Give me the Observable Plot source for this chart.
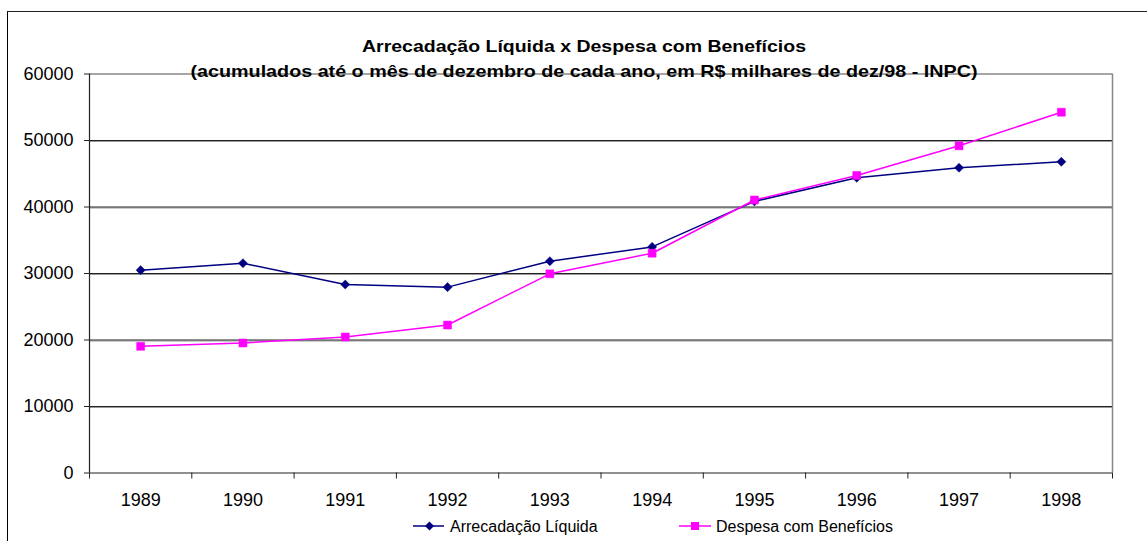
<!DOCTYPE html>
<html>
<head>
<meta charset="utf-8">
<script src="https://cdn.jsdelivr.net/npm/d3@7"></script>
<script src="https://cdn.jsdelivr.net/npm/@observablehq/plot@0.6"></script>
<style>
  html, body { margin: 0; padding: 0; background: #fff; }
  #wrap { position: relative; width: 1147px; height: 541px; overflow: hidden; background: #fff; }
  #frame { position: absolute; left: 7px; top: 11px; width: 1200px; height: 600px; border-left: 1px solid #000; border-top: 1.5px solid #222; box-sizing: border-box; }
  #chart { position: absolute; left: 0; top: 0; }
  #overlay { position: absolute; left: 0; top: 0; pointer-events: none; }
</style>
</head>
<body>
<div id="wrap">
  <div id="frame"></div>
  <div id="chart"></div>
  <svg id="overlay" width="1147" height="541"></svg>
</div>
<script>
// ---- data ----
const years = [1989, 1990, 1991, 1992, 1993, 1994, 1995, 1996, 1997, 1998];
const arrecadacao = [30500, 31550, 28350, 27950, 31850, 34000, 40850, 44400, 45900, 46800];
const despesa = [19050, 19550, 20450, 22250, 29950, 33050, 41050, 44750, 49200, 54250];
const yTicks = [0, 10000, 20000, 30000, 40000, 50000, 60000];
const seriesNames = ["Arrecadação Líquida", "Despesa com Benefícios"];
const titleText = "Arrecadação Líquida x Despesa com Benefícios";
const subtitleText = "(acumulados até o mês de dezembro de cada ano, em R$ milhares de dez/98 - INPC)";

const rowsA = years.map((y, i) => ({year: y, value: arrecadacao[i]}));
const rowsD = years.map((y, i) => ({year: y, value: despesa[i]}));
const bounds = d3.range(years[0] - 0.5, years[years.length - 1] + 1, 1);
const innerGrid = yTicks.filter(v => v > 0 && v < 60000);

const navy = "#000080";
const pink = "#FF00FF";
const font = "'Liberation Sans', Arial, Helvetica, sans-serif";

const chart = Plot.plot({
  width: 1147,
  height: 541,
  marginLeft: 89,
  marginRight: 35,
  marginTop: 73.5,
  marginBottom: 68.5,
  style: {fontFamily: font, fontSize: "18px", color: "#000", background: "transparent", overflow: "visible"},
  x: {type: "linear", domain: [bounds[0], bounds[bounds.length - 1]]},
  y: {type: "linear", domain: [0, 60000]},
  marks: [
    // gridlines
    Plot.ruleY(innerGrid, {stroke: "#999", strokeWidth: 1, dy: 1}),
    Plot.ruleY(innerGrid, {stroke: "#222", strokeWidth: 1}),
    // top and right borders of the plot area
    Plot.ruleY([60000], {stroke: "#888", strokeWidth: 1.5}),
    Plot.ruleX([bounds[bounds.length - 1]], {stroke: "#888", strokeWidth: 1.5}),
    // axes lines
    Plot.ruleY([0], {stroke: "#222", strokeWidth: 1.2}),
    Plot.ruleX([bounds[0]], {stroke: "#222", strokeWidth: 1.2}),
    Plot.axisY({ticks: yTicks, tickSize: 5, tickPadding: 11, tickFormat: d => String(d), label: null, fontSize: 18, stroke: "#222"}),
    Plot.axisX({ticks: bounds, tickSize: 6, tickFormat: () => "", label: null, stroke: "#222"}),
    Plot.axisX({ticks: years, tickSize: 0, tickPadding: 20, tickFormat: d => String(d), label: null, fontSize: 18}),
    // series
    Plot.line(rowsA, {x: "year", y: "value", stroke: navy, strokeWidth: 1.5}),
    Plot.dot(rowsA, {x: "year", y: "value", symbol: "diamond2", r: 4.1, fill: navy, stroke: navy, strokeWidth: 0.5}),
    Plot.line(rowsD, {x: "year", y: "value", stroke: pink, strokeWidth: 1.5}),
    Plot.dot(rowsD, {x: "year", y: "value", symbol: "square", r: 4.5, fill: pink, stroke: pink, strokeWidth: 0.5})
  ]
});
document.getElementById("chart").appendChild(chart);

// ---- title, subtitle and legend ----
const ov = d3.select("#overlay").attr("font-family", font);
ov.append("text").attr("x", 584).attr("y", 51.5).attr("text-anchor", "middle")
  .attr("font-size", 17).attr("font-weight", "bold").attr("fill", "#000")
  .attr("textLength", 444).attr("lengthAdjust", "spacingAndGlyphs").text(titleText);
ov.append("text").attr("x", 584).attr("y", 77).attr("text-anchor", "middle")
  .attr("font-size", 17).attr("font-weight", "bold").attr("fill", "#000")
  .attr("textLength", 787).attr("lengthAdjust", "spacingAndGlyphs").text(subtitleText);

const leg = [
  {x0: 413, x1: 444, cx: 429.5, tx: 450, color: navy, sym: d3.symbolDiamond2, size: 52, name: seriesNames[0]},
  {x0: 679, x1: 711, cx: 695, tx: 716, color: pink, sym: d3.symbolSquare, size: 64, name: seriesNames[1]}
];
const ly = 526;
leg.forEach(l => {
  ov.append("line").attr("x1", l.x0).attr("x2", l.x1).attr("y1", ly).attr("y2", ly)
    .attr("stroke", l.color).attr("stroke-width", 1.5);
  ov.append("path").attr("d", d3.symbol(l.sym, l.size)()).attr("transform", `translate(${l.cx},${ly})`)
    .attr("fill", l.color);
  ov.append("text").attr("x", l.tx).attr("y", ly + 6).attr("font-size", 16).attr("fill", "#000").text(l.name);
});
</script>
</body>
</html>
